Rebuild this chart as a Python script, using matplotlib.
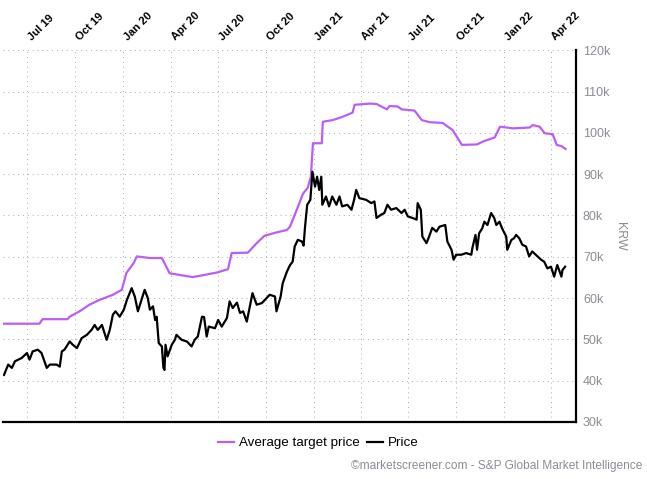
"""
Average analyst target price vs share price (KRW), May 2019 - May 2022.
Writes out.png in the current directory.
"""

import matplotlib

matplotlib.use("Agg")
import matplotlib.dates as mdates
import matplotlib.pyplot as plt
import matplotlib.transforms as mtransforms
import pandas as pd

plt.rcParams["font.family"] = ["Liberation Sans", "DejaVu Sans"]

# --------- Data (values in thousand KRW) ---------

price_dates = [
    "2019-05-17", "2019-05-25", "2019-06-01", "2019-06-07", "2019-06-20", "2019-06-30",
    "2019-07-05", "2019-07-11", "2019-07-21", "2019-07-28", "2019-08-07", "2019-08-13",
    "2019-08-26", "2019-09-01", "2019-09-05", "2019-09-10", "2019-09-20", "2019-09-26",
    "2019-10-04", "2019-10-13", "2019-10-23", "2019-11-01", "2019-11-07", "2019-11-13",
    "2019-11-21", "2019-11-30", "2019-12-06", "2019-12-12", "2019-12-17", "2019-12-25",
    "2020-01-02", "2020-01-08", "2020-01-17", "2020-01-23", "2020-01-29", "2020-02-05",
    "2020-02-11", "2020-02-17", "2020-02-21", "2020-02-27", "2020-03-02", "2020-03-05",
    "2020-03-09", "2020-03-15", "2020-03-18", "2020-03-20", "2020-03-22", "2020-03-26",
    "2020-04-03", "2020-04-09", "2020-04-12", "2020-04-22", "2020-05-02", "2020-05-11",
    "2020-05-17", "2020-05-23", "2020-05-31", "2020-06-04", "2020-06-09", "2020-06-13",
    "2020-06-25", "2020-07-01", "2020-07-08", "2020-07-18", "2020-07-23", "2020-07-29",
    "2020-08-06", "2020-08-12", "2020-08-18", "2020-08-25", "2020-08-31", "2020-09-05",
    "2020-09-13", "2020-09-23", "2020-10-02", "2020-10-08", "2020-10-18", "2020-10-21",
    "2020-10-29", "2020-11-02", "2020-11-10", "2020-11-16", "2020-11-21", "2020-11-25",
    "2020-12-01", "2020-12-09", "2020-12-12", "2020-12-15", "2020-12-19", "2020-12-25",
    "2020-12-29", "2021-01-03", "2021-01-07", "2021-01-11", "2021-01-15", "2021-01-17",
    "2021-01-24", "2021-01-30", "2021-02-05", "2021-02-13", "2021-02-19", "2021-02-24",
    "2021-03-06", "2021-03-14", "2021-03-19", "2021-03-23", "2021-03-29", "2021-04-11",
    "2021-04-21", "2021-04-27", "2021-05-01", "2021-05-10", "2021-05-16", "2021-05-22",
    "2021-05-29", "2021-06-08", "2021-06-18", "2021-06-24", "2021-06-30", "2021-07-09",
    "2021-07-17", "2021-07-19", "2021-07-25", "2021-07-28", "2021-08-05", "2021-08-10",
    "2021-08-16", "2021-08-24", "2021-08-30", "2021-09-10", "2021-09-14", "2021-09-22",
    "2021-09-26", "2021-10-01", "2021-10-11", "2021-10-20", "2021-10-30", "2021-11-01",
    "2021-11-07", "2021-11-10", "2021-11-14", "2021-11-20", "2021-11-24", "2021-11-30",
    "2021-12-07", "2021-12-13", "2021-12-17", "2021-12-23", "2021-12-28", "2022-01-05",
    "2022-01-07", "2022-01-15", "2022-01-20", "2022-01-24", "2022-01-30", "2022-02-05",
    "2022-02-12", "2022-02-18", "2022-02-24", "2022-03-06", "2022-03-13", "2022-03-19",
    "2022-03-25", "2022-04-01", "2022-04-07", "2022-04-13", "2022-04-21", "2022-04-23",
    "2022-04-28",
]
price_values = [
    41.4, 43.9, 43.1, 44.7, 45.5, 46.7,
    45.1, 47.1, 47.5, 46.7, 43.1, 43.9,
    43.9, 43.4, 47.1, 47.5, 49.5, 48.7,
    47.9, 50.3, 51.1, 52.3, 53.5, 52.3,
    53.5, 49.9, 52.3, 56.0, 56.8, 55.5,
    57.2, 59.6, 62.4, 60.4, 56.8, 59.6,
    62.0, 60.0, 57.2, 58.0, 54.7, 55.5,
    49.1, 48.3, 43.1, 42.6, 48.7, 45.9,
    48.7, 49.9, 51.1, 49.9, 49.5, 48.3,
    49.9, 50.7, 55.5, 55.4, 50.7, 53.1,
    52.7, 54.7, 53.1, 55.2, 59.2, 57.6,
    58.9, 56.4, 56.8, 54.3, 58.0, 61.2,
    58.4, 58.8, 60.0, 60.8, 60.4, 56.8,
    60.4, 63.6, 66.4, 68.0, 68.8, 72.5,
    74.1, 73.7, 72.7, 77.5, 82.6, 83.8,
    90.6, 87.0, 89.4, 86.2, 89.4, 82.6,
    84.6, 82.2, 84.6, 82.6, 84.6, 82.2,
    82.6, 81.4, 83.8, 86.2, 84.2, 83.8,
    83.0, 83.4, 79.4, 80.2, 80.6, 82.6,
    81.4, 81.8, 80.6, 81.4, 79.8, 79.4,
    79.0, 83.0, 81.4, 74.9, 73.3, 74.9,
    77.0, 76.1, 77.3, 77.7, 73.7, 71.7,
    69.3, 70.5, 70.5, 70.9, 70.5, 72.1,
    75.3, 71.7, 75.7, 76.9, 78.5, 77.7,
    80.6, 79.4, 77.7, 78.5, 76.9, 74.9,
    71.7, 74.1, 74.5, 75.3, 74.5, 72.9,
    72.5, 70.1, 71.3, 70.1, 69.3, 68.8,
    67.2, 67.6, 65.2, 68.0, 65.2, 66.8,
    67.6,
]

target_dates = [
    "2019-05-15", "2019-07-24", "2019-07-30", "2019-09-16", "2019-09-20", "2019-10-09",
    "2019-10-28", "2019-11-17", "2019-12-12", "2019-12-29", "2020-01-07", "2020-01-21",
    "2020-01-27", "2020-02-21", "2020-03-15", "2020-03-30", "2020-05-13", "2020-05-27",
    "2020-06-29", "2020-07-20", "2020-07-27", "2020-08-27", "2020-09-13", "2020-09-28",
    "2020-10-21", "2020-11-10", "2020-11-16", "2020-11-29", "2020-12-11", "2020-12-20",
    "2020-12-26", "2020-12-30", "2021-01-16", "2021-01-18", "2021-02-06", "2021-02-25",
    "2021-03-16", "2021-03-20", "2021-04-18", "2021-05-01", "2021-05-21", "2021-05-26",
    "2021-06-11", "2021-06-18", "2021-07-13", "2021-07-27", "2021-08-11", "2021-09-05",
    "2021-09-15", "2021-09-24", "2021-10-04", "2021-10-12", "2021-11-10", "2021-11-21",
    "2021-12-14", "2021-12-24", "2022-01-18", "2022-02-19", "2022-02-25", "2022-03-10",
    "2022-03-20", "2022-04-04", "2022-04-12", "2022-04-21", "2022-04-29",
]
target_values = [
    53.8, 53.8, 54.9, 54.9, 55.5, 56.8,
    58.4, 59.6, 60.8, 62.0, 66.1, 68.5,
    70.1, 69.7, 69.7, 66.0, 65.1, 65.4,
    66.2, 67.0, 70.9, 71.0, 73.3, 75.1,
    75.9, 76.5, 77.3, 81.4, 85.3, 86.7,
    89.4, 97.5, 97.5, 102.7, 103.1, 103.9,
    104.9, 106.8, 107.1, 107.0, 105.7, 106.5,
    106.4, 105.7, 105.4, 103.1, 102.6, 102.4,
    101.5, 100.7, 98.7, 97.1, 97.2, 97.9,
    98.9, 101.5, 101.1, 101.3, 101.9, 101.5,
    99.9, 99.7, 97.1, 96.8, 96.1,
]

y_ticks = [30, 40, 50, 60, 70, 80, 90, 100, 110, 120]

PURPLE = "#bb5ef5"
GREY = "#8c8c96"


def main():
    fig = plt.figure(figsize=(6.47, 4.79), dpi=100)
    ax = fig.add_axes([0.0046, 0.119, 0.8857, 0.776])

    ax.plot(pd.to_datetime(target_dates), target_values, color=PURPLE,
            linewidth=1.6, label="Average target price", zorder=3)
    ax.plot(pd.to_datetime(price_dates), price_values, color="black",
            linewidth=1.6, label="Price", zorder=4)

    ax.set_xlim(pd.Timestamp("2019-05-15"), pd.Timestamp("2022-05-19"))
    ax.set_ylim(30, 120)

    # x axis: quarterly labels on top, rotated
    ax.xaxis.set_major_locator(mdates.MonthLocator(bymonth=[1, 4, 7, 10]))
    ax.xaxis.set_major_formatter(mdates.DateFormatter("%b %y"))
    ax.xaxis.tick_top()
    ax.tick_params(axis="x", length=0, pad=7, labelsize=8)
    shift = mtransforms.ScaledTranslation(5 / 100, 0, fig.dpi_scale_trans)
    for lab in ax.get_xticklabels():
        lab.set_rotation(45)
        lab.set_rotation_mode("anchor")
        lab.set_ha("left")
        lab.set_va("baseline")
        lab.set_fontweight("bold")
        lab.set_transform(lab.get_transform() + shift)

    # y axis on the right
    ax.yaxis.tick_right()
    ax.set_yticks(y_ticks)
    ax.set_yticklabels([f"{v}k" for v in y_ticks])
    ax.tick_params(axis="y", length=0, pad=5, labelsize=9, labelcolor=GREY)
    ax.yaxis.set_label_position("right")
    ax.set_ylabel("KRW", rotation=270, color=GREY, fontsize=9, labelpad=11)

    ax.grid(True, color="#aaaaaa", linewidth=0.7, linestyle=(0, (1, 4)))
    ax.set_axisbelow(True)

    for side in ("top", "left"):
        ax.spines[side].set_visible(False)
    for side in ("right", "bottom"):
        ax.spines[side].set_color("black")
        ax.spines[side].set_linewidth(1.6)

    fig.legend(loc="center", bbox_to_anchor=(0.492, 0.075), ncol=2, frameon=False,
               fontsize=9.6, handlelength=1.2, columnspacing=0.55, handletextpad=0.4)

    fig.text(0.993, 0.027, "©marketscreener.com - S&P Global Market Intelligence",
             ha="right", va="center", color=GREY, fontsize=8.6)

    fig.savefig("out.png", dpi=100)
    plt.close(fig)


if __name__ == "__main__":
    main()
